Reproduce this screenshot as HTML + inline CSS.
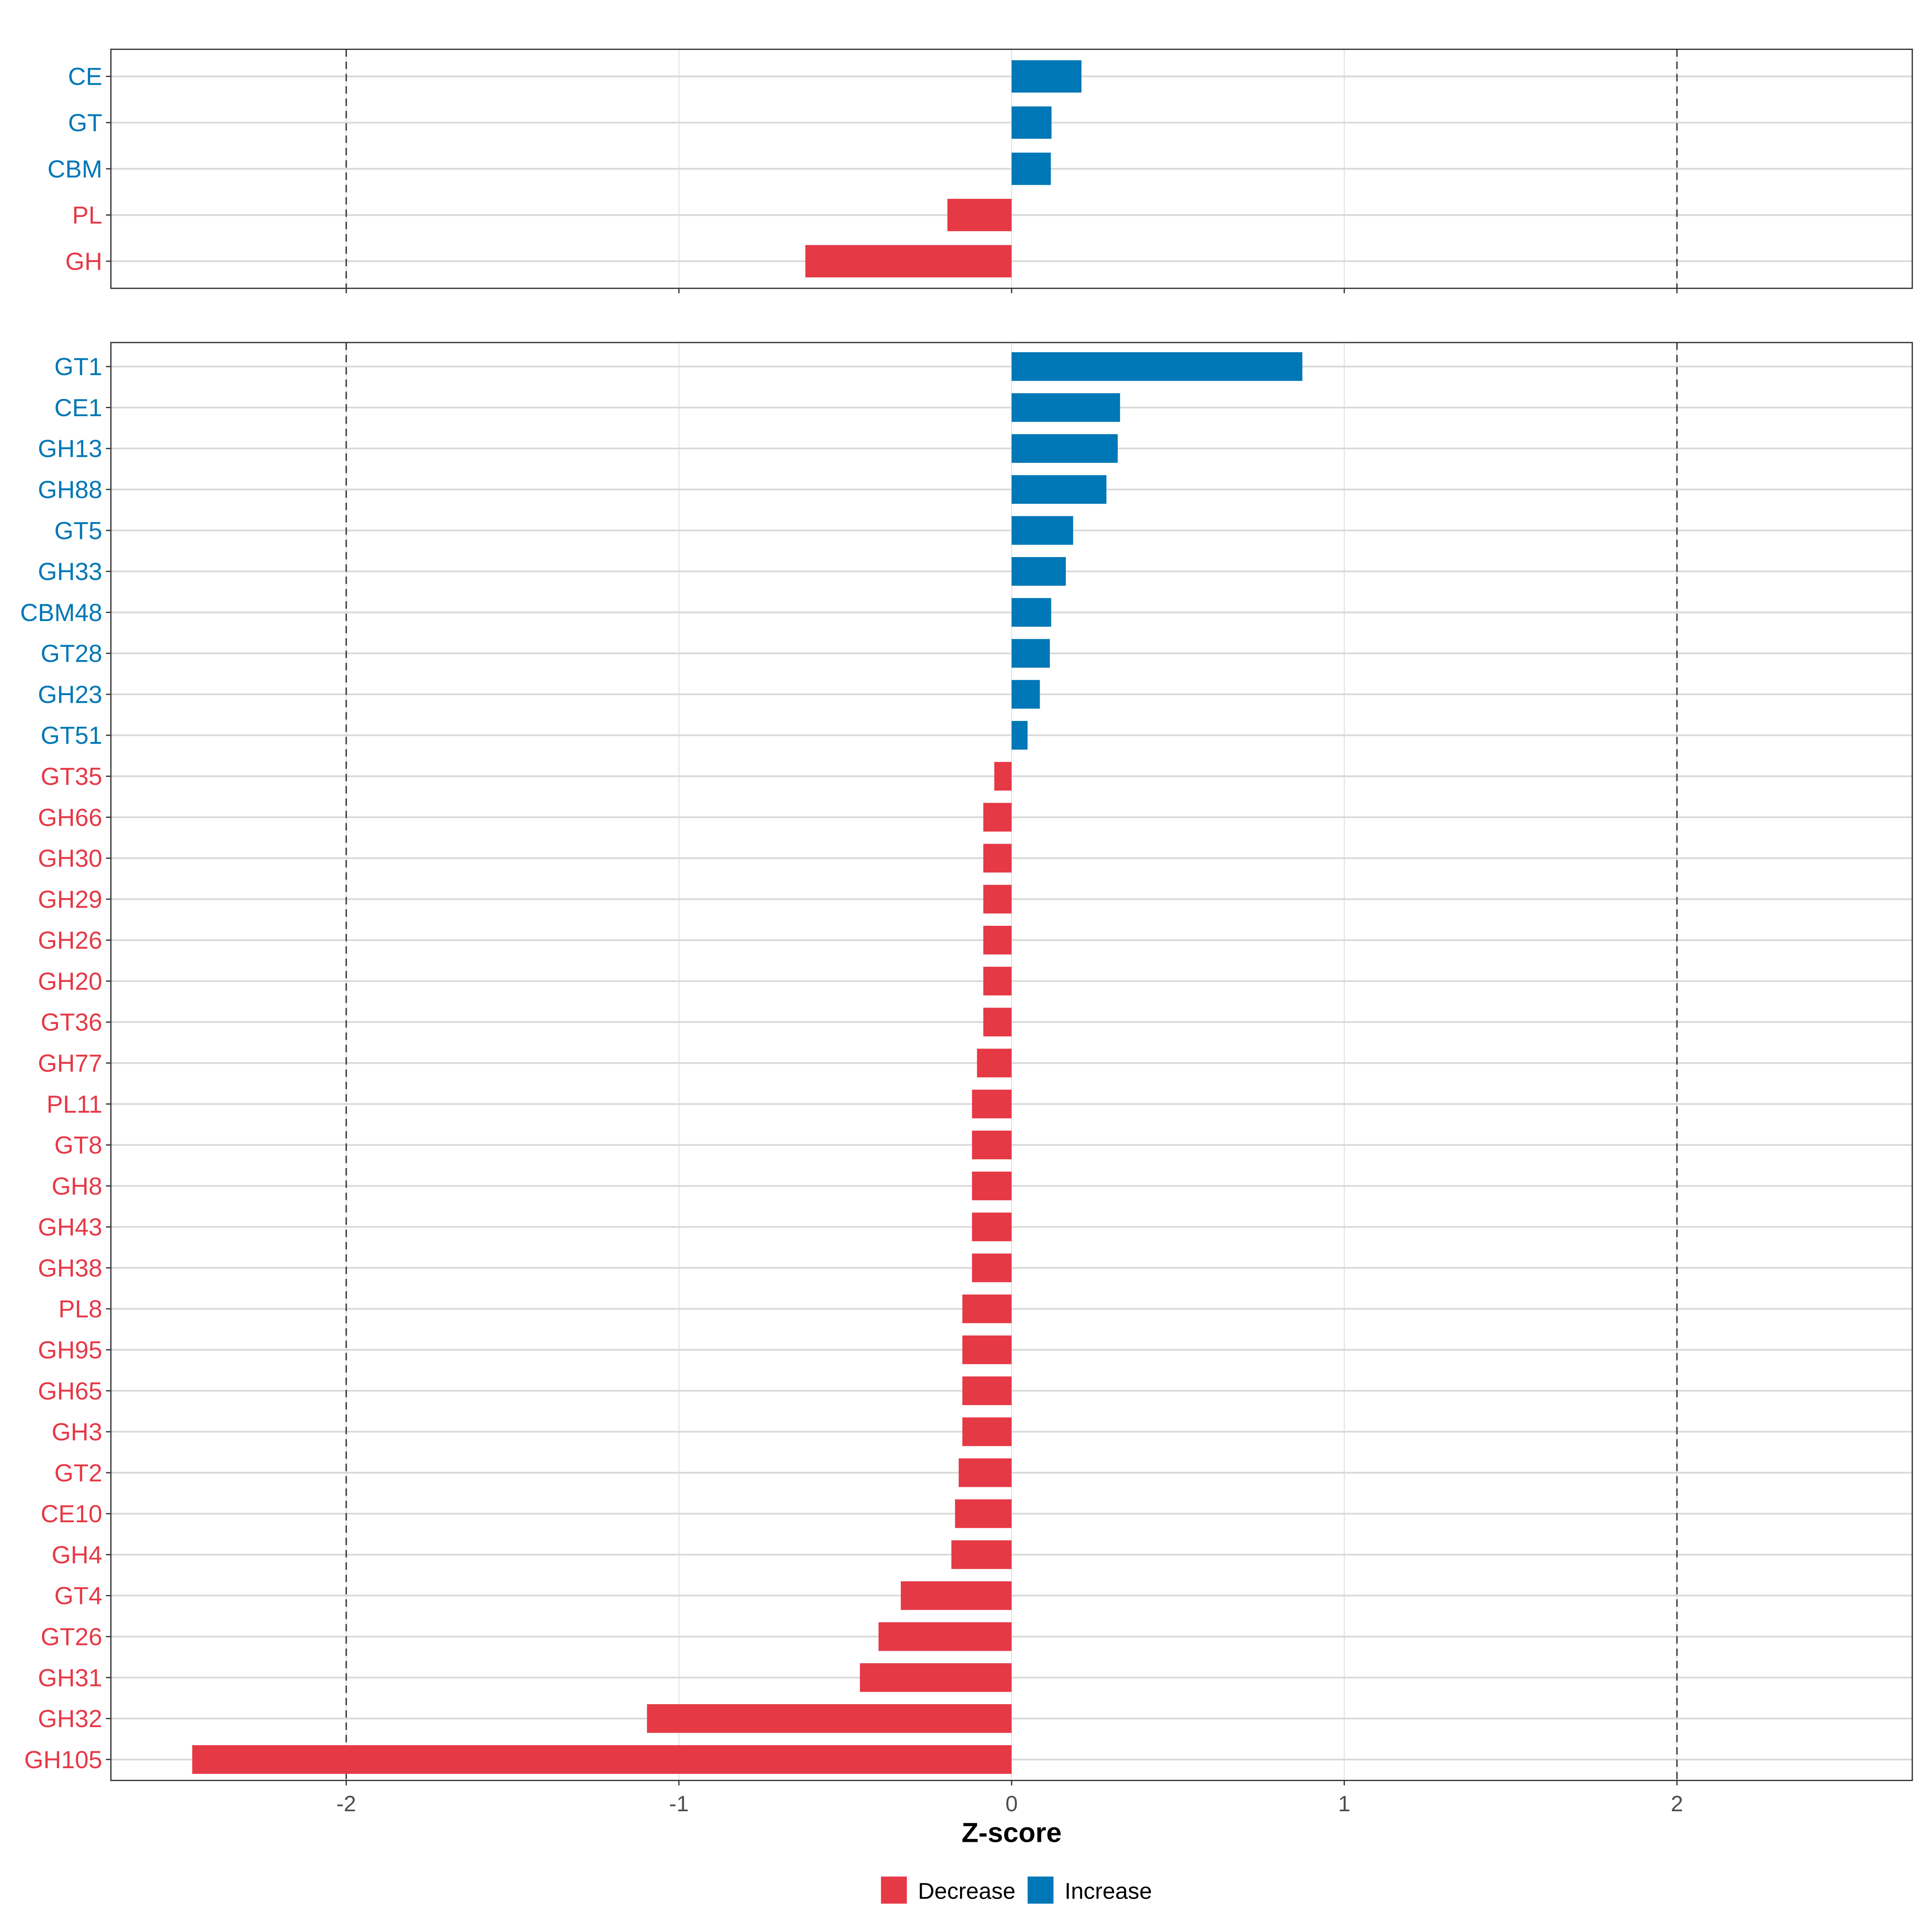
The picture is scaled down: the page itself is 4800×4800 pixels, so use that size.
<!DOCTYPE html>
<html><head><meta charset="utf-8"><style>
html,body{margin:0;padding:0;background:#fff}
svg{display:block}
text{font-family:"Liberation Sans",sans-serif}
</style></head><body>
<svg id="chart" width="4800" height="4800" viewBox="0 0 1568 1568" xmlns="http://www.w3.org/2000/svg">
<g id="g"></g>
</svg>
<script>
const topCats = ["CE","GT","CBM","PL","GH"];
const topVals = [0.21,0.12,0.118,-0.193,-0.62];
const botCats = ["GT1","CE1","GH13","GH88","GT5","GH33","CBM48","GT28","GH23","GT51","GT35","GH66","GH30","GH29","GH26","GH20","GT36","GH77","PL11","GT8","GH8","GH43","GH38","PL8","GH95","GH65","GH3","GT2","CE10","GH4","GT4","GT26","GH31","GH32","GH105"];
const botVals = [0.874,0.326,0.319,0.285,0.185,0.163,0.119,0.115,0.085,0.048,-0.052,-0.085,-0.085,-0.085,-0.085,-0.085,-0.085,-0.104,-0.119,-0.119,-0.119,-0.119,-0.119,-0.148,-0.148,-0.148,-0.148,-0.159,-0.17,-0.181,-0.333,-0.4,-0.456,-1.096,-2.463];
const xTicks = [-2,-1,0,1,2];
const xTickLabels = ["-2","-1","0","1","2"];

const NS="http://www.w3.org/2000/svg";
const g=document.getElementById('g');
const BLUE="#0077b6", RED="#e63946";
const X0=90, X1=1552;
function xs(v){return 821+v*270;}
function mk(tag,attrs,parent){const e=document.createElementNS(NS,tag);for(const k in attrs)e.setAttribute(k,attrs[k]);(parent||g).appendChild(e);return e;}

function panel(cats,vals,top,bottom,firstY,step,name,showLabels){
  const pg=mk('g',{});
  
  
  xTicks.forEach(t=>{
    const l=mk('line',{x1:xs(t),x2:xs(t),y1:top,y2:bottom,stroke:'#dedede','stroke-width':0.7},pg);
    
    
  });
  cats.forEach((c,i)=>{
    const y=firstY+i*step;
    const l=mk('line',{x1:X0,x2:X1,y1:y,y2:y,stroke:'#d9d9d9','stroke-width':1.4},pg);
    
    
  });
  [-2,2].forEach(t=>{
    const l=mk('line',{x1:xs(t),x2:xs(t),y1:top,y2:bottom,stroke:'#444','stroke-width':1.2,'stroke-dasharray':'6,4'},pg);
    
    
  });
  const bh=step*0.7;
  cats.forEach((c,i)=>{
    const y=firstY+i*step, v=vals[i];
    const col=v>=0?BLUE:RED;
    const r=mk('rect',{x:Math.min(xs(0),xs(v)),y:y-bh/2,width:Math.abs(xs(v)-xs(0)),height:bh,fill:col},pg);
    
    
    const tk=mk('line',{x1:86,x2:90,y1:y,y2:y,stroke:'#333','stroke-width':1},pg);
    
    
    const t=mk('text',{x:83,y:y+7,'text-anchor':'end','font-size':20,fill:col},pg);
    t.textContent=c;
    
    
  });
  xTicks.forEach((t,i)=>{
    const l=mk('line',{x1:xs(t),x2:xs(t),y1:bottom,y2:bottom+4,stroke:'#333','stroke-width':1},pg);
    
    
    if(showLabels){
      const tx=mk('text',{x:xs(t),y:bottom+25,'text-anchor':'middle','font-size':18,fill:'#4d4d4d'},pg);
      tx.textContent=xTickLabels[i];
      
      
    }
  });
  const fr=mk('rect',{x:X0,y:top,width:X1-X0,height:bottom-top,fill:'none',stroke:'#333','stroke-width':1},pg);
  
  
}
panel(topCats,topVals,40,234,62,37.5,'top-panel',false);
panel(botCats,botVals,278,1445,297.5,(1428-297.5)/34,'bottom-panel',true);

const xt=mk('text',{x:821,y:1495,'text-anchor':'middle','font-size':22.5,'font-weight':'bold',fill:'#000'});
xt.textContent='Z-score';



const leg=[["Decrease",RED,715],["Increase",BLUE,834]];
leg.forEach(([lab,col,x])=>{
  const r=mk('rect',{x:x,y:1523,width:21,height:22,fill:col});
  
  
  const t=mk('text',{x:x+30,y:1541,'font-size':18.5,fill:'#000'});
  t.textContent=lab;
  
  
});
</script>
</body></html>
